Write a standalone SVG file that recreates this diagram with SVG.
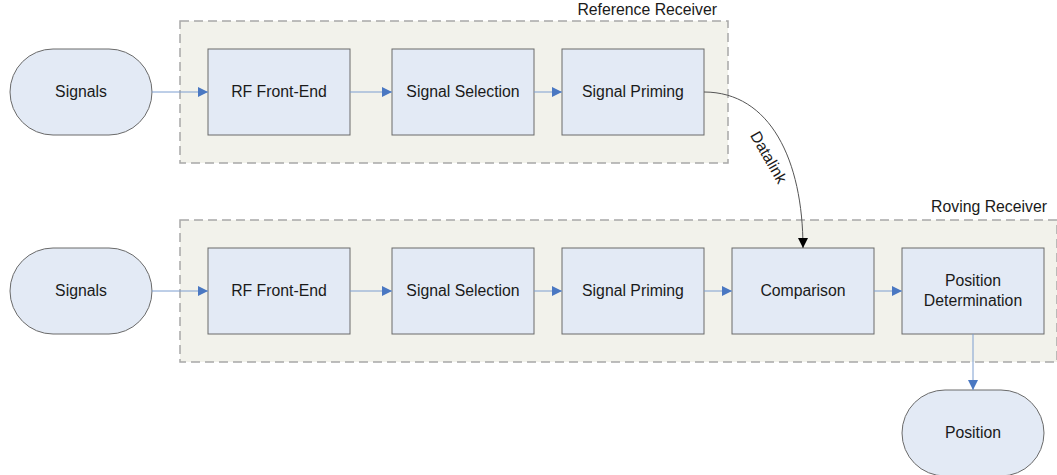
<svg xmlns="http://www.w3.org/2000/svg" width="1057" height="475" viewBox="0 0 1057 475">
<defs>
<style>
text{font-family:"Liberation Sans",Arial,sans-serif;font-size:15.8px;fill:#1a1a1a;text-anchor:middle}
.grp{fill:#f2f2eb;stroke:#a8a8a8;stroke-width:1.5;stroke-dasharray:9,5}
.box{fill:#e3eaf5;stroke:#6a6a6a;stroke-width:1}
.pill{fill:#e3eaf5;stroke:#6a6a6a;stroke-width:1}
.con{fill:none;stroke:#7d9ed0;stroke-width:1;marker-end:url(#ab)}
.dl{fill:none;stroke:#555;stroke-width:1;marker-end:url(#ak)}
</style>
<marker id="ab" viewBox="0 0 10 10" refX="10" refY="5" markerWidth="10" markerHeight="10" markerUnits="userSpaceOnUse" orient="auto"><path d="M0,0 L10,5 L0,10 z" fill="#4a78c2"/></marker>
<marker id="ak" viewBox="0 0 10 10" refX="10" refY="5" markerWidth="10" markerHeight="10" markerUnits="userSpaceOnUse" orient="auto"><path d="M0,0 L10,5 L0,10 z" fill="#000"/></marker>
</defs>
<g id="reference-receiver">
<rect class="grp" x="180" y="21" width="548" height="142"/>
<text x="717" y="15" style="text-anchor:end">Reference Receiver</text>
</g>
<g id="roving-receiver">
<rect class="grp" x="180" y="220" width="877" height="142"/>
<text x="1047" y="212" style="text-anchor:end">Roving Receiver</text>
</g>
<g id="signals-top"><rect class="pill" x="10" y="49" width="142" height="86" rx="43"/><text x="81" y="97">Signals</text></g>
<g id="rf-top"><rect class="box" x="208" y="49" width="142" height="86"/><text x="279" y="97">RF Front-End</text></g>
<g id="sel-top"><rect class="box" x="392" y="49" width="142" height="86"/><text x="463" y="97">Signal Selection</text></g>
<g id="prim-top"><rect class="box" x="562" y="49" width="142" height="86"/><text x="633" y="97">Signal Priming</text></g>
<g id="signals-bot"><rect class="pill" x="10" y="248" width="142" height="86" rx="43"/><text x="81" y="296">Signals</text></g>
<g id="rf-bot"><rect class="box" x="208" y="248" width="142" height="86"/><text x="279" y="296">RF Front-End</text></g>
<g id="sel-bot"><rect class="box" x="392" y="248" width="142" height="86"/><text x="463" y="296">Signal Selection</text></g>
<g id="prim-bot"><rect class="box" x="562" y="248" width="142" height="86"/><text x="633" y="296">Signal Priming</text></g>
<g id="comparison"><rect class="box" x="732" y="248" width="142" height="86"/><text x="803" y="296">Comparison</text></g>
<g id="posdet"><rect class="box" x="902" y="248" width="142" height="86"/><text x="973" y="286">Position</text><text x="973" y="306">Determination</text></g>
<g id="position"><rect class="pill" x="902" y="390" width="142" height="86" rx="43"/><text x="973" y="438">Position</text></g>
<g id="connectors">
<path class="con" d="M152,92 H208"/>
<path class="con" d="M350,92 H392"/>
<path class="con" d="M534,92 H562"/>
<path class="con" d="M152,291 H208"/>
<path class="con" d="M350,291 H392"/>
<path class="con" d="M534,291 H562"/>
<path class="con" d="M704,291 H732"/>
<path class="con" d="M874,291 H902"/>
<path class="con" d="M973,334 V390"/>
<path class="dl" d="M704,92 C770,92 803,160 803,248"/>
<text x="0" y="0" transform="translate(764,160) rotate(60)">Datalink</text>
</g>
</svg>
